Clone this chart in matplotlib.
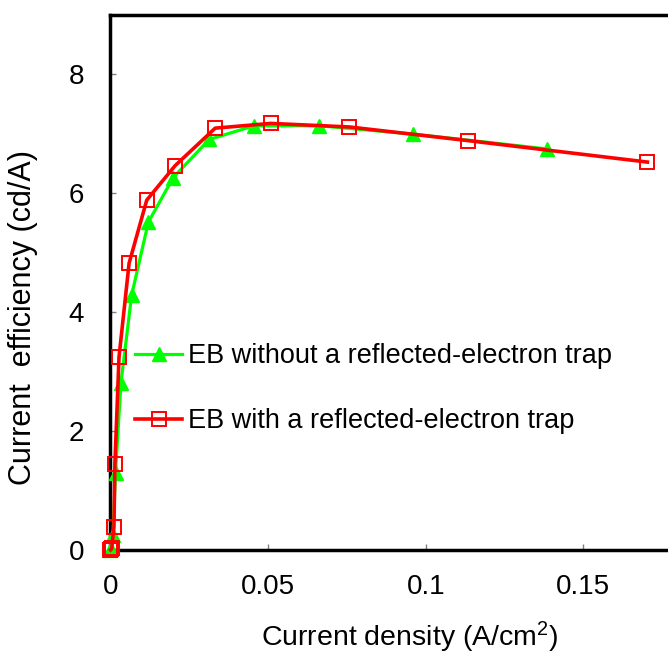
import matplotlib
matplotlib.use("Agg")
import matplotlib.pyplot as plt

plt.rcParams["font.family"] = ["Liberation Sans", "DejaVu Sans"]
plt.rcParams["mathtext.fontset"] = "custom"
plt.rcParams["mathtext.rm"] = "Liberation Sans"
plt.rcParams["mathtext.it"] = "Liberation Sans"
plt.rcParams["font.size"] = 20

# Current density (A/cm^2) and current efficiency (cd/A)
density_no_trap = [0.0, 0.0002, 0.0008, 0.0016, 0.0033, 0.0067, 0.0120,
                   0.0199, 0.0313, 0.0455, 0.0662, 0.0961, 0.1386]
efficiency_no_trap = [0.0, 0.02, 0.26, 1.30, 2.80, 4.28, 5.51,
                      6.26, 6.90, 7.13, 7.13, 6.99, 6.74]

density_trap = [0.0, 0.0002, 0.0004, 0.0011, 0.0014, 0.0027, 0.0059,
                0.0115, 0.0205, 0.0332, 0.0508, 0.0758, 0.1135, 0.1703]
efficiency_trap = [0.0, 0.01, 0.03, 0.39, 1.45, 3.24, 4.82,
                   5.88, 6.46, 7.09, 7.17, 7.11, 6.88, 6.52]

label_no_trap = "EB without a reflected-electron trap"
label_trap = "EB with a reflected-electron trap"

x_ticks = [0, 0.05, 0.1, 0.15]
x_tick_labels = ["0", "0.05", "0.1", "0.15"]
y_ticks = [0, 2, 4, 6, 8]

fig = plt.figure(figsize=(6.68, 6.54), dpi=100)
ax = fig.add_axes([0.1654, 0.159, 0.8496, 0.8188])

ax.plot(density_no_trap, efficiency_no_trap, color="#00ff00", lw=2.3,
        marker="^", ms=10.5, mfc="#00ff00", mec="#00ff00", mew=1,
        label=label_no_trap, clip_on=False, zorder=3)
ax.plot(density_trap, efficiency_trap, color="#ff0000", lw=2.6,
        marker="s", ms=9.5, mfc="none", mec="#ff0000", mew=1.4,
        label=label_trap, clip_on=False, zorder=4)

ax.set_xlim(0, 0.18)
ax.set_ylim(0, 9)
ax.set_xticks(x_ticks)
ax.set_xticklabels(x_tick_labels)
ax.set_yticks(y_ticks)

for side in ("left", "top", "bottom"):
    ax.spines[side].set_linewidth(2.5)
    ax.spines[side].set_color("black")
ax.spines["right"].set_visible(False)

ax.tick_params(axis="both", direction="in", length=4.5, width=1,
               color="#808080", labelsize=20, labelcolor="black")
ax.tick_params(axis="x", pad=17)
ax.tick_params(axis="y", pad=19)

ax.set_xlabel("Current density (A/cm$^{2}$)", fontsize=20.5)
ax.xaxis.set_label_coords(0.528, -0.131)
ax.set_ylabel("Current  efficiency (cd/A)", fontsize=22)
ax.yaxis.set_label_coords(-0.128, 0.435)

ax.legend(loc="upper left", bbox_to_anchor=(0.043, 0.386), frameon=False,
          borderpad=0, borderaxespad=0, handlelength=1.75,
          handletextpad=0.2, labelspacing=1.44, fontsize=19.5, numpoints=1)

fig.savefig("out.png", dpi=100)
